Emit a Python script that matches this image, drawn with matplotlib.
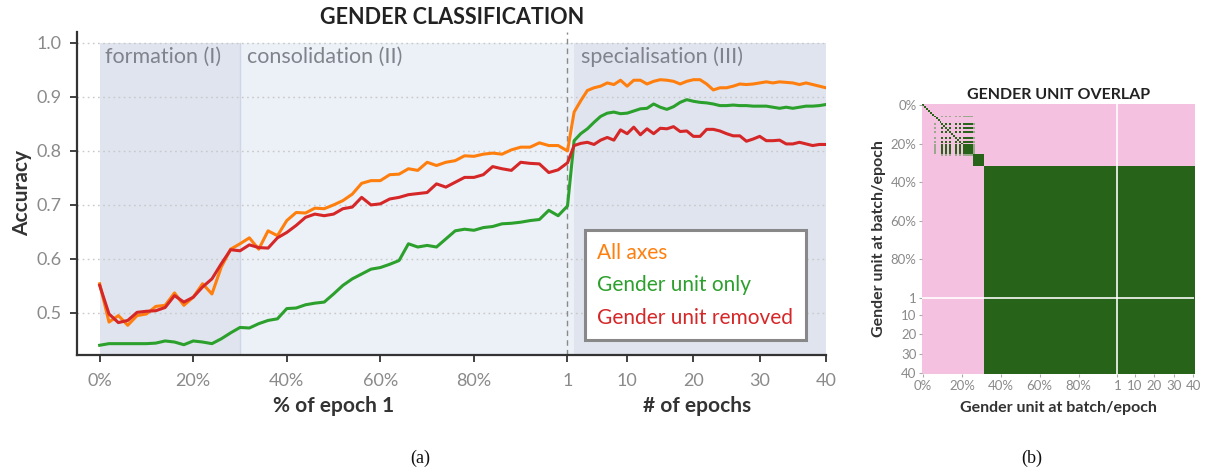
import numpy as np
import matplotlib
matplotlib.use("Agg")
import matplotlib.pyplot as plt
from matplotlib.colors import ListedColormap, BoundaryNorm
import matplotlib.transforms as mtransforms

plt.rcParams['font.family'] = ['Lato', 'DejaVu Sans']

# ---------------- data: left panel ----------------
batch_pct = [0, 2, 4, 6, 8, 10, 12, 14, 16, 18, 20, 22, 24, 26, 28, 30, 32, 34, 36, 38,
             40, 42, 44, 46, 48, 50, 52, 54, 56, 58, 60, 62, 64, 66, 68, 70, 72, 74, 76, 78,
             80, 82, 84, 86, 88, 90, 92, 94, 96, 98]
epochs = list(range(1, 41))

all_axes_batch = [0.554, 0.483, 0.495, 0.477, 0.495, 0.498, 0.512, 0.514, 0.537, 0.514,
                  0.529, 0.554, 0.535, 0.585, 0.618, 0.628, 0.639, 0.618, 0.652, 0.643,
                  0.671, 0.686, 0.685, 0.694, 0.693, 0.700, 0.708, 0.720, 0.740, 0.745,
                  0.745, 0.756, 0.757, 0.767, 0.764, 0.779, 0.773, 0.779, 0.782, 0.791,
                  0.790, 0.794, 0.796, 0.794, 0.802, 0.807, 0.807, 0.815, 0.810, 0.810]
all_axes_epoch = [0.800, 0.872, 0.893, 0.912, 0.917, 0.920, 0.926, 0.923, 0.931, 0.920,
                  0.931, 0.931, 0.924, 0.929, 0.932, 0.931, 0.929, 0.924, 0.929, 0.932,
                  0.932, 0.924, 0.913, 0.917, 0.917, 0.920, 0.924, 0.923, 0.924, 0.926,
                  0.928, 0.926, 0.928, 0.927, 0.926, 0.923, 0.926, 0.923, 0.920, 0.917]

unit_only_batch = [0.440, 0.443, 0.443, 0.443, 0.443, 0.443, 0.444, 0.448, 0.446, 0.441,
                   0.448, 0.446, 0.443, 0.452, 0.463, 0.473, 0.472, 0.480, 0.486, 0.489,
                   0.508, 0.509, 0.515, 0.518, 0.520, 0.535, 0.551, 0.563, 0.572, 0.581,
                   0.584, 0.590, 0.597, 0.628, 0.622, 0.625, 0.622, 0.637, 0.652, 0.655,
                   0.653, 0.658, 0.660, 0.665, 0.666, 0.668, 0.671, 0.673, 0.690, 0.680]
unit_only_epoch = [0.698, 0.819, 0.832, 0.841, 0.853, 0.864, 0.870, 0.872, 0.869, 0.870,
                   0.874, 0.878, 0.879, 0.887, 0.881, 0.877, 0.882, 0.890, 0.895, 0.892,
                   0.890, 0.889, 0.887, 0.884, 0.884, 0.885, 0.884, 0.884, 0.883, 0.883,
                   0.883, 0.881, 0.879, 0.881, 0.879, 0.881, 0.883, 0.883, 0.884, 0.886]

removed_batch = [0.551, 0.498, 0.482, 0.486, 0.501, 0.503, 0.504, 0.510, 0.532, 0.520,
                 0.529, 0.548, 0.563, 0.591, 0.617, 0.615, 0.626, 0.621, 0.620, 0.639,
                 0.649, 0.662, 0.677, 0.683, 0.680, 0.683, 0.693, 0.696, 0.714, 0.700,
                 0.702, 0.711, 0.714, 0.719, 0.721, 0.723, 0.739, 0.733, 0.742, 0.751,
                 0.751, 0.756, 0.771, 0.767, 0.764, 0.779, 0.777, 0.776, 0.760, 0.765]
removed_epoch = [0.778, 0.810, 0.814, 0.816, 0.812, 0.820, 0.825, 0.820, 0.839, 0.832,
                 0.844, 0.830, 0.841, 0.832, 0.842, 0.841, 0.845, 0.836, 0.837, 0.827,
                 0.827, 0.840, 0.840, 0.837, 0.832, 0.828, 0.828, 0.818, 0.822, 0.827,
                 0.819, 0.819, 0.820, 0.813, 0.813, 0.816, 0.813, 0.810, 0.812, 0.812]

series_labels = ["All axes", "Gender unit only", "Gender unit removed"]
series_colors = ["#ff7f0e", "#2ca02c", "#d62728"]

phase_labels = ["formation (I)", "consolidation (II)", "specialisation (III)"]

# ---------------- data: right panel ----------------
n_cells = 140                      # 0%..100% (=epoch 1) then epochs 2..40
unit_A = [10, 12, 14, 17, 19, 21, 22, 23, 24, 25]
partial_A = [6, 26]
unit_B = [26, 27, 28, 29, 30, 31]
unit_C_start = 32

# ---------------- figure ----------------
fig = plt.figure(figsize=(12.07, 4.73), dpi=100)

EPOCH_W = 1.4165
def ex(e):
    return 100 + (np.asarray(e, dtype=float) - 1) * EPOCH_W

ax = fig.add_axes([0.0638, 0.2495, 0.6205, 0.6836])
xmin, xmax = -4.84, ex(40)
ax.set_xlim(xmin, xmax)
ax.set_ylim(0.422, 1.021)

# phase bands
band_dark = "#dfe4ef"
band_light = "#ecf0f7"
ax.fill_between([0, 30], 0.4, 1.0, color=band_dark, lw=0, zorder=0)
ax.fill_between([30, ex(2)], 0.4, 1.0, color=band_light, lw=0, zorder=0)
ax.fill_between([ex(2), xmax], 0.4, 1.0, color=band_dark, lw=0, zorder=0)
ax.axvline(30, ymax=(1.0 - 0.422) / (1.021 - 0.422), color="#cfd6e6", lw=1, zorder=0.5)

ax.text(1.2, 0.974, phase_labels[0], color="#80838c", fontsize=15.5, va="center", ha="left")
ax.text(31.4, 0.974, phase_labels[1], color="#80838c", fontsize=15.5, va="center", ha="left")
ax.text(ex(3.1), 0.974, phase_labels[2], color="#80838c", fontsize=15.5, va="center", ha="left")

# grid
for yv in [0.5, 0.6, 0.7, 0.8, 0.9, 1.0]:
    ax.axhline(yv, color="#c8c8c8", lw=1, ls=(0, (1.2, 2.5)), zorder=1)

ax.axvline(100, color="#8a8a8a", lw=1, ls=(0, (4, 3)), zorder=2)

xb = np.asarray(batch_pct, dtype=float)
xe = ex(epochs)
handles = []
for lab, col, yb, ye in zip(series_labels, series_colors,
                            [all_axes_batch, unit_only_batch, removed_batch],
                            [all_axes_epoch, unit_only_epoch, removed_epoch]):
    x = np.concatenate([xb, xe])
    y = np.concatenate([yb, ye])
    h, = ax.plot(x, y, color=col, lw=2.2, zorder=3, label=lab, solid_joinstyle="round")
    handles.append(h)

leg = ax.legend(handles=handles, loc="lower right", bbox_to_anchor=(0.973, 0.046),
                handlelength=0, handletextpad=0, fontsize=15, frameon=True,
                fancybox=False, borderpad=0.6, labelspacing=0.6, borderaxespad=0)
leg.get_frame().set_edgecolor("#888888")
leg.get_frame().set_linewidth(2.2)
leg.get_frame().set_facecolor("white")
leg.get_frame().set_alpha(1)
leg.set_zorder(5)
for t, c in zip(leg.get_texts(), series_colors):
    t.set_color(c)

# ticks
ticks = [0, 20, 40, 60, 80] + list(ex([1, 10, 20, 30, 40]))
ticklabels = ["0%", "20%", "40%", "60%", "80%", "1", "10", "20", "30", "40"]
ax.set_xticks(ticks)
ax.set_xticklabels(ticklabels)
ax.set_yticks([0.5, 0.6, 0.7, 0.8, 0.9, 1.0])
ax.set_yticklabels(["0.5", "0.6", "0.7", "0.8", "0.9", "1.0"])
ax.tick_params(axis="both", labelsize=13, labelcolor="#8a8a8a", color="#333333",
               length=5, width=1.3, direction="out")
ax.tick_params(axis="x", pad=8)
ax.tick_params(axis="y", pad=6)
for s in ["top", "right"]:
    ax.spines[s].set_visible(False)
for s in ["left", "bottom"]:
    ax.spines[s].set_color("#333333")
    ax.spines[s].set_linewidth(1.6)

ax.set_ylabel("Accuracy", fontsize=15, fontweight="bold", color="#333333", labelpad=3)
trans = mtransforms.blended_transform_factory(ax.transData, ax.transAxes)
ax.text(50, -0.158, "% of epoch 1", transform=trans, ha="center", va="center",
        fontsize=15, fontweight="bold", color="#333333")
ax.text((100 + xmax) / 2, -0.158, "# of epochs", transform=trans, ha="center", va="center",
        fontsize=15, fontweight="bold", color="#333333")

fig.text(452 / 1207, 1 - 17 / 473, "GENDER CLASSIFICATION", ha="center", va="center",
         fontsize=15.5, fontweight="bold", color="#222222")

# ---------------- right panel ----------------
units = []
for i in range(n_cells):
    if i >= unit_C_start:
        units.append("C")
    elif i in unit_B:
        units.append("B")
    elif i in unit_A:
        units.append("A")
    else:
        units.append("s%d" % i)
M = np.zeros((n_cells, n_cells))
for i in range(n_cells):
    for j in range(n_cells):
        if units[i] == units[j]:
            M[i, j] = 1.0
for p in partial_A:
    for a in unit_A:
        M[p, a] = max(M[p, a], 0.5)
        M[a, p] = max(M[a, p], 0.5)

ax2 = fig.add_axes([0.7639, 0.2093, 0.2255, 0.5707])
cmap = ListedColormap(["#f5c1e0", "#9aa88c", "#28631a"])
norm = BoundaryNorm([-0.1, 0.25, 0.75, 1.1], cmap.N)
ax2.imshow(M, cmap=cmap, norm=norm, interpolation="nearest", aspect="auto")
ax2.axvline(100, color="white", lw=1.3, alpha=0.9)
ax2.axhline(100, color="white", lw=1.3, alpha=0.9)
hticks = [0, 20, 40, 60, 80, 100, 109, 119, 129, 139]
ax2.set_xticks(hticks)
ax2.set_xticklabels(ticklabels)
ax2.set_yticks(hticks)
ax2.set_yticklabels(ticklabels)
ax2.tick_params(axis="both", labelsize=9.5, labelcolor="#8a8a8a", color="#aaaaaa",
                length=2.5, width=0.8, pad=1.5)
for s in ax2.spines.values():
    s.set_visible(False)
ax2.set_xlabel("Gender unit at batch/epoch", fontsize=11.5, fontweight="bold",
               color="#333333", labelpad=7)
ax2.set_ylabel("Gender unit at batch/epoch", fontsize=11.5, fontweight="bold",
               color="#333333", labelpad=3)
ax2.set_title("GENDER UNIT OVERLAP", fontsize=11.5, fontweight="bold", color="#222222", pad=4)

fig.text(420 / 1207, 1 - 458 / 473, "(a)", ha="center", va="center", fontsize=13,
         family="Liberation Serif", color="#111111")
fig.text(1032 / 1207, 1 - 458 / 473, "(b)", ha="center", va="center", fontsize=13,
         family="Liberation Serif", color="#111111")

fig.savefig("out.png", dpi=100)
